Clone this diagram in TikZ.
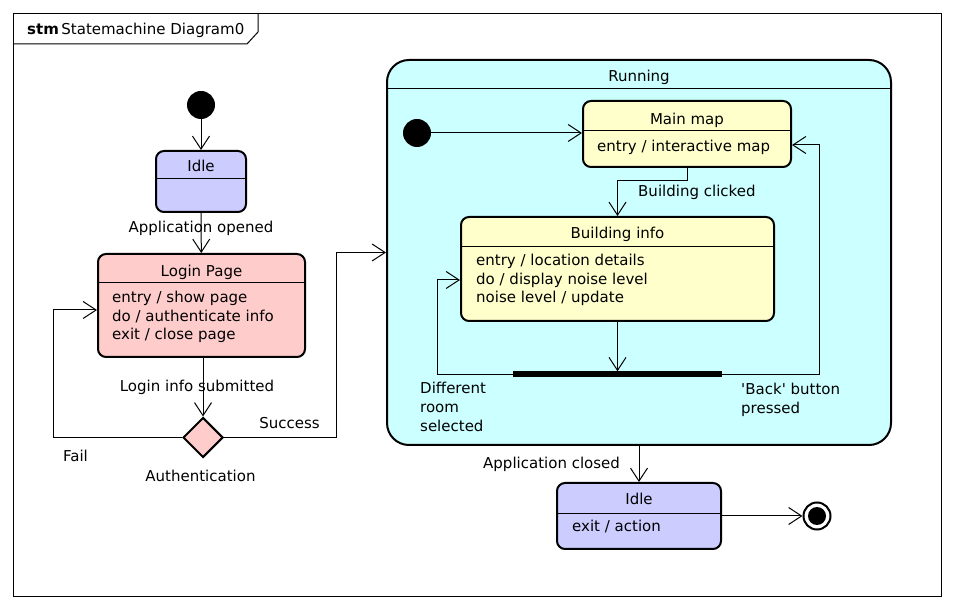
\documentclass[tikz,border=0pt]{standalone}
\usepackage{fontspec}
\setmainfont{DejaVu Sans}
\usetikzlibrary{arrows.meta,shapes.geometric}
\definecolor{idleC}{RGB}{204,204,255}
\definecolor{loginC}{RGB}{255,204,204}
\definecolor{runC}{RGB}{204,255,255}
\definecolor{mapC}{RGB}{255,255,204}
\begin{document}
\begin{tikzpicture}[x=1pt,y=-1pt,
  font=\fontsize{15}{18}\selectfont,
  statebox/.style={draw, line width=2pt, rounded corners=8pt, inner sep=0pt},
  divider/.style={line width=1pt},
  arr/.style={line width=1pt, -{Straight Barb[length=13pt,width=17pt]}},
  conn/.style={line width=1pt},
  txt/.style={inner sep=0pt, anchor=base},
  ltxt/.style={inner sep=0pt, anchor=base west},
  initial/.style={circle, fill=black, minimum size=28pt, inner sep=0pt}]
\useasboundingbox (0,0) rectangle (954,609);
% frame
\draw[line width=1pt] (13,14) rectangle (941,596);
\draw[line width=1pt] (13,44) -- (247,44) -- (258,32) -- (258,14);
\node[ltxt] (title) at (27,35) {\textbf{stm}\,Statemachine Diagram0};

% left column
\node[initial] (init1) at (201,105) {};
\node[statebox, fill=idleC, minimum width=90pt, minimum height=61pt] (idle1) at (201,181.5) {};
\draw[divider] (156,179) -- (246,179);
\node[txt] (idle1t) at (201,172) {Idle};

\node[statebox, fill=loginC, minimum width=207pt, minimum height=103pt] (login) at (201.5,305.5) {};
\draw[divider] (98,283) -- (305,283);
\node[txt] (logint) at (201.5,277) {Login Page};
\node[ltxt] (login1) at (112,303) {entry / show page};
\node[ltxt] (login2) at (112,321.5) {do / authenticate info};
\node[ltxt] (login3) at (112,340) {exit / close page};

\node[diamond, draw, line width=2pt, fill=loginC, minimum width=40pt, minimum height=40pt, inner sep=0pt] (auth) at (203,437.5) {};

% running composite
\node[draw, line width=2pt, rounded corners=22pt, fill=runC, minimum width=504pt, minimum height=385pt, inner sep=0pt] (running) at (639,252.5) {};
\draw[divider] (387,89) -- (891,89);
\node[txt] (runt) at (639,82) {Running};
\node[initial] (init2) at (417,133) {};
\node[statebox, fill=mapC, minimum width=208pt, minimum height=66pt] (mainmap) at (687,134) {};
\draw[divider] (583,131) -- (791,131);
\node[txt] (mapt) at (687,125) {Main map};
\node[ltxt] (map1) at (597,152) {entry / interactive map};
\node[statebox, fill=mapC, minimum width=313pt, minimum height=104pt] (building) at (617.5,269) {};
\draw[divider] (461,247) -- (774,247);
\node[txt] (buildt) at (617.5,239) {Building info};
\node[ltxt] (b1) at (476,266) {entry / location details};
\node[ltxt] (b2) at (476,284.5) {do / display noise level};
\node[ltxt] (b3) at (476,303) {noise level / update};
\node[fill=black, minimum width=209pt, minimum height=6pt, inner sep=0pt] (bar) at (617.5,374.5) {};

% bottom
\node[statebox, fill=idleC, minimum width=164pt, minimum height=66pt] (idle2) at (639,516) {};
\draw[divider] (557,514) -- (721,514);
\node[txt] (idle2t) at (639,505) {Idle};
\node[ltxt] (idle2a) at (572,532) {exit / action};
\node[circle, draw, line width=2pt, fill=white, minimum size=27pt, inner sep=0pt] (final) at (817,516) {};
\fill (final.center) circle (9pt);

% connectors
\draw[arr] (init1) -- (idle1);
\draw[arr] (idle1) -- (login);
\node[txt] (lab1) at (201,233) {Application opened};
\draw[arr] (login.south -| auth.north) -- (auth.north);
\node[txt] (lab2) at (197,392) {Login info submitted};
\coordinate (f1) at (53,437.5);
\draw[arr] (auth.west) -- (f1) |- ([yshift=-4.5pt]login.west);
\node[txt] (lab3) at (75.5,462) {Fail};
\coordinate (s1) at (336,437.5);
\draw[arr] (auth.east) -- (s1) |- (running.west);
\node[txt] (lab4) at (289.5,429) {Success};
\node[txt] (lab5) at (200.5,482) {Authentication};

\draw[arr] (init2) -- (init2 -| mainmap.west);
\coordinate (m1) at (687,181);
\draw[arr] (mainmap.south) -- (m1) -| (building.north);
\node[ltxt] (lab6) at (638,197) {Building clicked};
\draw[arr] (building.south) -- (bar.north);
\coordinate (l1) at (437,374.5);
\draw[arr] (bar.west) -- (l1) |- ([yshift=-11pt]building.west);
\coordinate (r1) at (819,374.5);
\draw[arr] (bar.east) -- (r1) |- ([yshift=-11pt]mainmap.east);
\node[ltxt] (lab7a) at (420,394) {Different};
\node[ltxt] (lab7b) at (420,413) {room};
\node[ltxt] (lab7c) at (420,432) {selected};
\node[ltxt] (lab8a) at (741,395) {\textquotesingle Back\textquotesingle{} button};
\node[ltxt] (lab8b) at (741,413.5) {pressed};

\draw[arr] (running.south) -- (idle2.north);
\node[ltxt] (lab9) at (483,469) {Application closed};
\draw[arr] (idle2.east) -- (final.west);
\end{tikzpicture}
\end{document}
